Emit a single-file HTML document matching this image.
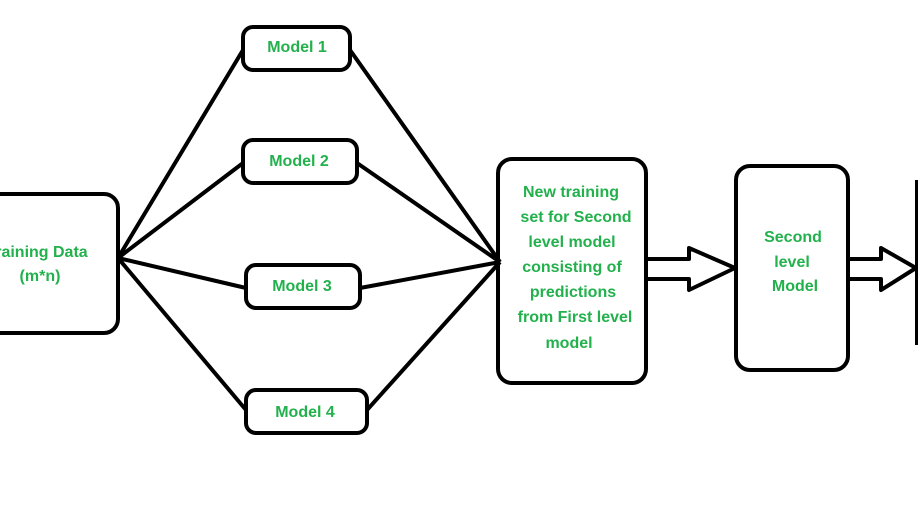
<!DOCTYPE html>
<html><head><style>
body{margin:0;background:#fff;}
svg text{font-family:"Liberation Sans",sans-serif;font-weight:bold;font-size:16px;fill:#22b14c;}
</style></head><body>
<svg width="918" height="517" viewBox="0 0 918 517" xmlns="http://www.w3.org/2000/svg">
<g fill="none" stroke="#000" stroke-width="4" stroke-linejoin="round">
<rect x="-20" y="194" width="138" height="139" rx="14"/>
<rect x="243" y="27" width="107" height="43" rx="10"/>
<rect x="243" y="140" width="114" height="43" rx="10"/>
<rect x="246" y="265" width="114" height="43" rx="10"/>
<rect x="246" y="390" width="121" height="43" rx="10"/>
<rect x="498" y="159" width="148" height="224" rx="14"/>
<rect x="736" y="166" width="112" height="204" rx="14"/>
<line x1="917" y1="180" x2="917" y2="345"/>
<path d="M118,258 L243,50 M118,258 L243,163 M118,258 L246,288 M118,258 L246,410"/>
<path d="M350,50 L500,262 M357,163 L500,262 M360,288 L500,262 M367,410 L500,262"/>
<path d="M646,259 L689,259 L689,248 L735,268 L689,290 L689,279 L646,279"/>
<path d="M848,259 L881,259 L881,248 L916,268 L881,290 L881,279 L848,279"/>
</g>
<text x="297" y="52" text-anchor="middle">Model 1</text>
<text x="299" y="166" text-anchor="middle">Model 2</text>
<text x="302" y="291" text-anchor="middle">Model 3</text>
<text x="305" y="417" text-anchor="middle">Model 4</text>
<text x="37" y="257" text-anchor="middle">Training Data</text>
<text x="40" y="281" text-anchor="middle">(m*n)</text>
<g text-anchor="middle">
<text x="571" y="197">New training</text>
<text x="576" y="222">set for Second</text>
<text x="572" y="247">level model</text>
<text x="572" y="272">consisting of</text>
<text x="573" y="297">predictions</text>
<text x="575" y="322">from First level</text>
<text x="569" y="348">model</text>
<text x="793" y="242">Second</text>
<text x="792" y="267">level</text>
<text x="795" y="291">Model</text>
</g>
</svg>
</body></html>
